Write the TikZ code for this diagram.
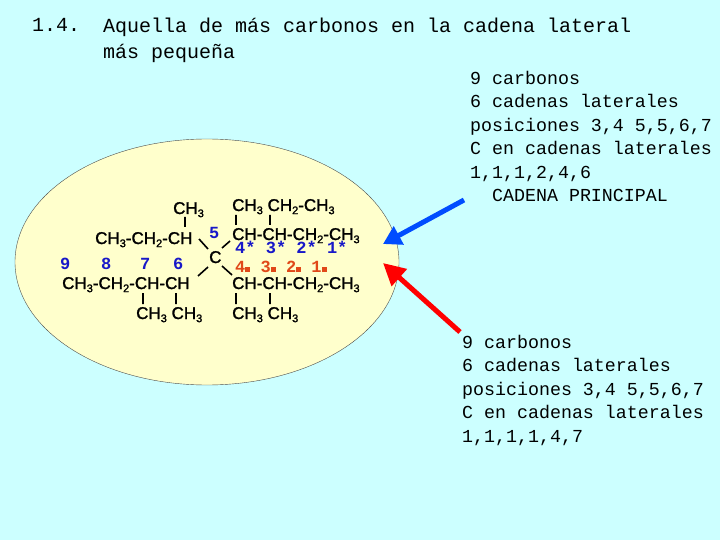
\documentclass[tikz,border=0pt]{standalone}
\usetikzlibrary{arrows.meta}
\usepackage{fontspec}
\setmainfont{Liberation Sans}
\newfontfamily\mono{Liberation Mono}
\newfontfamily\chem{Liberation Sans}[FakeBold=1.5]
\definecolor{bg}{HTML}{CCFFFF}
\definecolor{ell}{HTML}{FFFFCC}
\definecolor{nblue}{HTML}{1818C8}
\definecolor{nred}{HTML}{E04818}
\newcommand{\sub}[1]{\raisebox{-0.35ex}{\fontsize{11}{11}\selectfont #1}}
\begin{document}
\begin{tikzpicture}[x=1pt,y=-1pt,
  ch/.style={anchor=base west,inner sep=0,font=\chem\fontsize{17}{17}\selectfont},
  nb/.style={anchor=base west,inner sep=0,text=nblue,font=\mono\bfseries\fontsize{17}{17}\selectfont},
  nr/.style={anchor=base west,inner sep=0,text=nred,font=\mono\bfseries\fontsize{17}{17}\selectfont},
  tx/.style={anchor=north west,inner sep=0,align=left,font=\mono\fontsize{20}{26}\selectfont},
  side/.style={anchor=north west,inner sep=0,align=left,font=\mono\fontsize{18.3}{23.5}\selectfont},
  bond/.style={line width=1.6pt}]
\fill[bg] (0,0) rectangle (720,540);
\useasboundingbox (0,0) rectangle (720,540);
\node[tx] (n1) at (32,18) {1.4.};
\node[tx] (t1) at (103,18) {Aquella de más carbonos en la cadena lateral\\más pequeña};
\draw[fill=ell,draw=black!70] (207,262) ellipse (192 and 123);
% formula
\node[ch] (a1) at (173,214) {CH\sub{3}};
\node[ch] (a2) at (95,244) {CH\sub{3}-CH\sub{2}-CH};
\node[ch] (a3) at (232,211) {CH\sub{3} CH\sub{2}-CH\sub{3}};
\node[ch] (a4) at (232,240) {CH-CH-CH\sub{2}-CH\sub{3}};
\node[ch] (a5) at (209,263) {C};
\node[ch] (a6) at (62,289) {CH\sub{3}-CH\sub{2}-CH-CH};
\node[ch] (a7) at (232,289) {CH-CH-CH\sub{2}-CH\sub{3}};
\node[ch] (a8) at (136,319) {CH\sub{3} CH\sub{3}};
\node[ch] (a9) at (232,319) {CH\sub{3} CH\sub{3}};
\draw[bond] (185,217)--(185,227) (236,215)--(236,225) (270,215)--(270,225)
  (143,293)--(143,304) (176,293)--(176,304) (236,293)--(236,304) (270,293)--(270,304)
  (199,239)--(208,249) (222,248)--(230,241) (198,276)--(208,267) (222,266)--(232,275);
\node[nb] (b5) at (209,239) {5};
\node[nb] (b4) at (235,254) {4* 3* 2* 1*};
\node[nr] (r4) at (235,272) {4{\tiny\rule{5pt}{5pt}} 3{\tiny\rule{5pt}{5pt}} 2{\tiny\rule{5pt}{5pt}} 1{\tiny\rule{5pt}{5pt}}};
\node[nb] (b9) at (60,269) {9};
\node[nb] (b8) at (101,269) {8};
\node[nb] (b7) at (140,269) {7};
\node[nb] (b6) at (173,269) {6};
% side texts
\node[side] (s1) at (470,71) {9 carbonos\\6 cadenas laterales\\posiciones 3,4 5,5,6,7\\C en cadenas laterales\\1,1,1,2,4,6\\\ \ CADENA PRINCIPAL};
\node[side] (s2) at (462,335) {9 carbonos\\6 cadenas laterales\\posiciones 3,4 5,5,6,7\\C en cadenas laterales\\1,1,1,1,4,7};
\coordinate (bs) at (464,200);
\coordinate (be) at (383,244);
\coordinate (rs) at (460,332);
\coordinate (re) at (383,263);
\draw[line width=5pt,draw=blue!70!cyan,-{Triangle[length=18pt,width=20pt]}] (bs)--(be);
\draw[line width=5pt,draw=red,-{Triangle[length=22pt,width=22pt]}] (rs)--(re);
\end{tikzpicture}
\end{document}
